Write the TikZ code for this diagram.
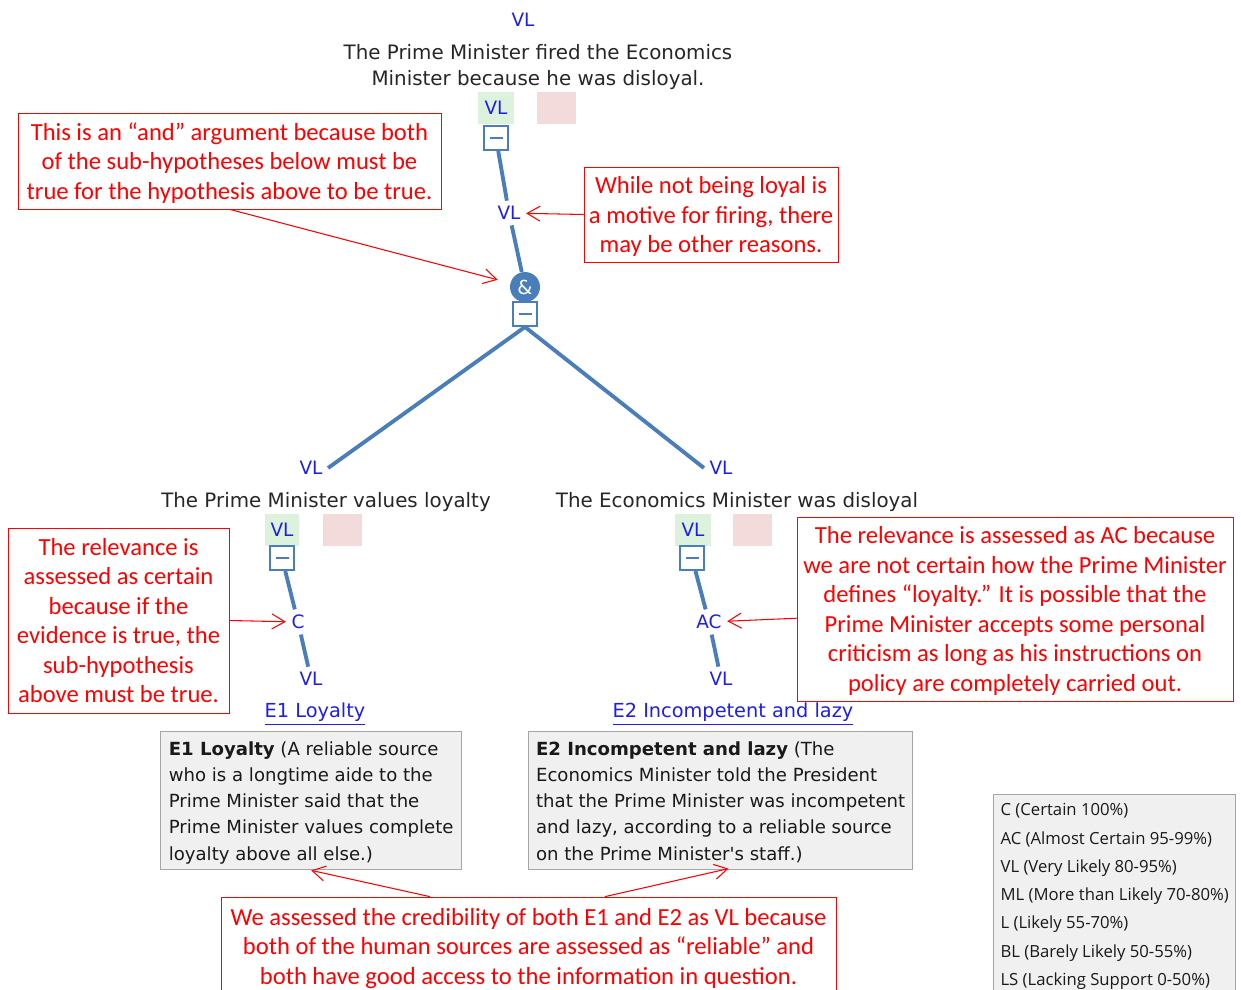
\documentclass[tikz,border=0pt]{standalone}
\usepackage{fontspec}
\setmainfont{Carlito}
\newfontfamily\treefont{DejaVu Sans}
\newfontfamily\keyfont{Open Sans}
\usetikzlibrary{arrows.meta,positioning,calc}
\definecolor{probblue}{RGB}{30,30,235}
\definecolor{stemblue}{RGB}{74,126,187}
\definecolor{okgreen}{RGB}{221,242,221}
\definecolor{badpink}{RGB}{244,219,219}
\definecolor{notered}{RGB}{255,0,0}
\definecolor{cardgrey}{RGB}{240,240,240}
\definecolor{cardedge}{RGB}{165,165,165}
\tikzset{
  prob/.style={text=probblue, font=\treefont\fontsize{10.5}{12}\selectfont, inner sep=3pt},
  claim/.style={align=center, text=black!85, font=\treefont\fontsize{11.3}{14.7}\selectfont, inner sep=1pt},
  okbox/.style={fill=okgreen, minimum width=0.72cm, minimum height=0.64cm, inner sep=0pt, text=probblue, font=\treefont\fontsize{10.5}{12}\selectfont},
  badbox/.style={fill=badpink, minimum width=0.78cm, minimum height=0.64cm, inner sep=0pt},
  fold/.style={draw=stemblue, line width=1.1pt, fill=white, minimum size=0.48cm, inner sep=0pt,
    path picture={\draw[stemblue, line width=1.1pt] ([xshift=-1.3mm]path picture bounding box.center) -- ([xshift=1.3mm]path picture bounding box.center);}},
  andgate/.style={circle, fill=stemblue, text=white, minimum size=0.6cm, inner sep=0pt, font=\treefont\fontsize{11}{12}\selectfont},
  stemline/.style={draw=stemblue, line width=2.2pt},
  notebox/.style={draw=notered, text=notered, align=center, inner sep=0pt, text depth=0pt, font=\fontsize{14}{16.8}\selectfont},
  pointer/.style={notered, line width=0.6pt, -{Straight Barb[length=2.6mm, width=3mm]}},
  evlink/.style={text=probblue, font=\treefont\fontsize{11}{12}\selectfont, inner sep=1pt},
  evbox/.style={draw=cardedge, line width=0.8pt, fill=cardgrey, anchor=north west, align=left, inner xsep=3pt, inner ysep=4pt, text depth=0pt, minimum height=2.76cm, text=black!90, font=\treefont\fontsize{10.3}{14.95}\selectfont},
  keybox/.style={draw=cardedge, line width=0.8pt, fill=cardgrey, anchor=north west, align=left, inner xsep=0.1cm, inner ysep=5pt, minimum width=4.84cm, text=black!90, font=\keyfont\fontsize{9.5}{16.1}\selectfont}
}

\begin{document}
\begin{tikzpicture}[x=0.02cm, y=-0.02cm]
  \clip (0,0) rectangle (1241,990);

  % main hypothesis
  \node[prob] (top) at (523,20) {VL};
  \node[claim] (hyp) at (538,67) {The Prime Minister fired the Economics\\Minister because he was disloyal.};
  \node[okbox] (ok0) at (496,108) {VL};
  \node[badbox] (bad0) at (556,108) {};
  \node[fold] (fold0) at (496,138) {};
  \node[prob] (rel0) at (509,213) {VL};
  \node[andgate] (and) at (525,287) {\&};
  \node[fold] (fold1) at (525,314) {};

  % left sub-hypothesis and its evidence
  \node[prob] (topL) at (311,468) {VL};
  \node[claim] (hypL) at (326,502) {The Prime Minister values loyalty};
  \node[okbox, minimum width=0.68cm] (okL) at (282,530) {VL};
  \node[badbox] (badL) at (342,530) {};
  \node[fold] (foldL) at (282,558) {};
  \node[prob] (relL) at (298,622) {C};
  \node[prob] (credL) at (311,679) {VL};
  \node[evlink] (linkL) at (315,714) {\underline{E1 Loyalty}};
  \node[evbox, minimum width=6.02cm] (cardL) at (160,731)
    {\textbf{E1 Loyalty} (A reliable source\\who is a longtime aide to the\\Prime Minister said that the\\Prime Minister values complete\\loyalty above all else.)};

  % right sub-hypothesis and its evidence
  \node[prob] (topR) at (721,468) {VL};
  \node[claim] (hypR) at (737,502) {The Economics Minister was disloyal};
  \node[okbox] (okR) at (693,530) {VL};
  \node[badbox] (badR) at (752,530) {};
  \node[fold] (foldR) at (692,558) {};
  \node[prob] (relR) at (709,622) {AC};
  \node[prob] (credR) at (721,679) {VL};
  \node[evlink] (linkR) at (733,714) {\underline{E2 Incompetent and lazy}};
  \node[evbox, minimum width=7.68cm] (cardR) at (528,731)
    {\textbf{E2 Incompetent and lazy} (The\\Economics Minister told the President\\that the Prime Minister was incompetent\\and lazy, according to a reliable source\\on the Prime Minister's staff.)};

  % tree stems
  \draw[stemline] (fold0) -- (rel0);
  \draw[stemline] (rel0) -- (and);
  \draw[stemline] (fold1.south) -- (topL.east);
  \draw[stemline] (fold1.south) -- (topR.west);
  \draw[stemline] (foldL) -- (relL);
  \draw[stemline] (relL) -- (credL);
  \draw[stemline] (foldR) -- (relR);
  \draw[stemline] (relR) -- (credR);

  % red comments
  \node[notebox, minimum width=8.46cm, minimum height=1.92cm] (noteA) at (229.5,161)
    {This is an “and” argument because both\\of the sub-hypotheses below must be\\true for the hypothesis above to be true.};
  \node[notebox, minimum width=5.08cm, minimum height=1.9cm] (noteB) at (711,214.5)
    {While not being loyal is\\a motive for firing, there\\may be other reasons.};
  \node[notebox, minimum width=4.42cm, minimum height=3.7cm] (noteC) at (118.5,620.5)
    {The relevance is\\assessed as certain\\because if the\\evidence is true, the\\sub-hypothesis\\above must be true.};
  \node[notebox, minimum width=8.72cm, minimum height=3.68cm] (noteD) at (1015,609)
    {The relevance is assessed as AC because\\we are not certain how the Prime Minister\\defines “loyalty.” It is possible that the\\Prime Minister accepts some personal\\criticism as long as his instructions on\\policy are completely carried out.};
  \node[notebox, minimum width=12.3cm, minimum height=1.96cm] (noteE) at (528.5,946)
    {We assessed the credibility of both E1 and E2 as VL because\\both of the human sources are assessed as “reliable” and\\both have good access to the information in question.};

  \draw[pointer, shorten >=0.26cm] (noteA.south) -- (and);
  \draw[pointer] (noteB.west) -- (rel0);
  \draw[pointer] (noteC.east) -- (relL);
  \draw[pointer] ($(noteD.north west)!0.55!(noteD.south west)$) -- (relR);
  \draw[pointer] ($(noteE.north west)!0.34!(noteE.north east)$) -- (cardL.south);
  \draw[pointer, shorten >=-0.16cm] ($(noteE.north west)!0.624!(noteE.north east)$) -- (cardR.south);

  % probability scale
  \node[keybox] (scale) at (993,794)
    {C (Certain 100\%)\\AC (Almost Certain 95-99\%)\\VL (Very Likely 80-95\%)\\ML (More than Likely 70-80\%)\\L (Likely 55-70\%)\\BL (Barely Likely 50-55\%)\\LS (Lacking Support 0-50\%)};
\end{tikzpicture}
\end{document}
